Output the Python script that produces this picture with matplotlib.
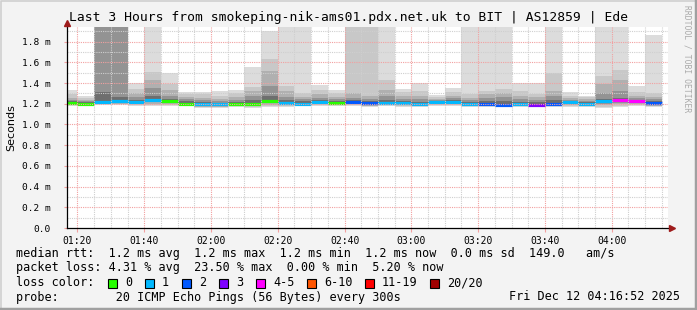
import matplotlib
matplotlib.use("Agg")
import matplotlib.pyplot as plt
from matplotlib.patches import Rectangle
from matplotlib.lines import Line2D
import numpy as np
import pandas as pd

# --- data (ms), one entry per 5-minute step; step end times ---
slot_end = pd.date_range("2025-12-12 01:20", periods=36, freq="5min")
window_start = pd.Timestamp("2025-12-12 01:16:52")
window_end = pd.Timestamp("2025-12-12 04:16:52")

p_min = [1.18, 1.18, 1.19, 1.19, 1.18, 1.18, 1.18, 1.18, 1.16, 1.16, 1.17, 1.16,
         1.17, 1.17, 1.18, 1.18, 1.18, 1.18, 1.17, 1.18, 1.17, 1.17, 1.18, 1.18,
         1.17, 1.17, 1.17, 1.17, 1.17, 1.17, 1.17, 1.17, 1.16, 1.17, 1.18, 1.17]
p_max = [1.33, 1.28, 2.5, 2.5, 1.40, 2.5, 1.50, 1.31, 1.31, 1.32, 1.33, 1.56,
         1.90, 2.5, 2.5, 1.38, 1.33, 2.5, 2.5, 2.5, 1.34, 1.40, 1.285, 1.35,
         2.5, 2.5, 2.5, 1.40, 1.40, 2.5, 1.31, 1.28, 2.5, 2.5, 1.37, 1.865]
p_up1 = [1.29, 1.26, 2.5, 2.5, 1.34, 1.51, 1.39, 1.29, 1.29, 1.28, 1.30, 1.36,
         1.63, 1.37, 1.30, 1.33, 1.30, 2.5, 2.5, 1.43, 1.31, 1.32, 1.27, 1.31,
         1.29, 1.32, 1.34, 1.32, 1.29, 1.50, 1.28, 1.27, 1.47, 1.53, 1.31, 1.30]
p_up2 = [1.26, 1.24, 2.5, 2.5, 1.30, 1.43, 1.33, 1.27, 1.26, 1.25, 1.27, 1.32,
         1.52, 1.32, 1.27, 1.29, 1.27, 1.30, 1.28, 1.33, 1.28, 1.28, 1.25, 1.28,
         1.26, 1.29, 1.30, 1.28, 1.27, 1.32, 1.26, 1.25, 1.39, 1.43, 1.28, 1.27]
p_up3 = [1.24, 1.23, 2.5, 2.5, 1.27, 1.35, 1.28, 1.25, 1.24, 1.23, 1.24, 1.28,
         1.37, 1.27, 1.25, 1.26, 1.25, 1.26, 1.25, 1.28, 1.25, 1.25, 1.24, 1.26,
         1.24, 1.26, 1.27, 1.25, 1.24, 1.28, 1.24, 1.23, 1.30, 1.32, 1.26, 1.25]
p_up4 = [1.23, 1.22, 1.31, 1.27, 1.24, 1.28, 1.25, 1.23, 1.22, 1.21, 1.22, 1.24,
         1.28, 1.24, 1.23, 1.24, 1.23, 1.24, 1.23, 1.24, 1.23, 1.22, 1.23, 1.24,
         1.22, 1.23, 1.23, 1.22, 1.22, 1.24, 1.23, 1.22, 1.25, 1.26, 1.24, 1.23]
median = [1.21, 1.20, 1.22, 1.225, 1.22, 1.24, 1.225, 1.20, 1.195, 1.195, 1.20, 1.20,
          1.23, 1.21, 1.20, 1.22, 1.21, 1.22, 1.205, 1.21, 1.21, 1.195, 1.22, 1.22,
          1.20, 1.20, 1.19, 1.20, 1.19, 1.20, 1.215, 1.20, 1.225, 1.235, 1.225, 1.205]
loss_idx = [0, 0, 1, 1, 1, 1, 0, 0, 1, 1, 0, 0, 0, 1, 1, 1, 0, 2, 2, 1, 1, 1, 1, 1,
            1, 2, 2, 1, 3, 2, 1, 1, 1, 4, 4, 2]

loss_labels = ["0", "1", "2", "3", "4-5", "6-10", "11-19", "20/20"]
loss_colors = ["#26ff00", "#00b8ff", "#0059ff", "#7e00ff", "#ff00ff",
               "#ff5500", "#ff0000", "#a10000"]

legend_lines = [
    "median rtt:  1.2 ms avg  1.2 ms max  1.2 ms min  1.2 ms now  0.0 ms sd  149.0   am/s",
    "packet loss: 4.31 % avg  23.50 % max  0.00 % min  5.20 % now",
]
probe_text = "probe:        20 ICMP Echo Pings (56 Bytes) every 300s"
date_text = "Fri Dec 12 04:16:52 2025"
title = "Last 3 Hours from smokeping-nik-ams01.pdx.net.uk to BIT | AS12859 | Ede"

MONO = "DejaVu Sans Mono"
W, H = 697, 310


def mins(ts):
    return (ts - ts.normalize()).total_seconds() / 60.0


fig = plt.figure(figsize=(W / 100, H / 100), dpi=100, facecolor="#f3f3f3")
ax = fig.add_axes([67 / W, 82 / H, 601 / W, 201 / H])
ax.set_facecolor("white")

t0, t1 = mins(window_start), mins(window_end)
ends = np.array([mins(t) for t in slot_end])
lefts = np.maximum(ends - 5, t0)
widths = ends - lefts

p_min = np.array(p_min)
med = np.array(median)
tops = [np.array(p_max), np.array(p_up1), np.array(p_up2), np.array(p_up3), np.array(p_up4)]
shades = ["#dcdcdc", "#c8c8c8", "#b0b0b0", "#939393", "#6e6e6e"]
for k, (top, shade) in enumerate(zip(tops, shades)):
    bot = p_min + k * (med - 0.005 - p_min) / len(tops)
    ax.bar(lefts, top - bot, widths, bottom=bot, align="edge", color=shade,
           linewidth=0, zorder=1)

ax.hlines(med, lefts, ends, colors=[loss_colors[i] for i in loss_idx],
          linewidth=2.3, zorder=3)

ax.set_xlim(t0, t1)
ax.set_ylim(0, 1.942)

# grid (rrdtool draws it over the data)
for x in np.arange(80, t1, 5):
    major = x % 20 == 0
    ax.axvline(x, color="#f2a0a0" if major else "#cfcfcf", lw=0.8,
               ls=(0, (1, 1)), zorder=4)
for y in np.arange(0.1, 1.94, 0.1):
    major = round(y * 10) % 2 == 0
    ax.axhline(y, color="#f2a0a0" if major else "#cfcfcf", lw=0.8,
               ls=(0, (1, 1)), zorder=4)

xt = np.arange(80, 241, 20)
ax.set_xticks(xt)
ax.set_xticklabels([f"{int(v) // 60:02d}:{int(v) % 60:02d}" for v in xt],
                   fontfamily=MONO, fontsize=7)
yt = np.arange(0, 1.81, 0.2)
ax.set_yticks(yt)
ax.set_yticklabels(["0.0"] + [f"{v:.1f} m" for v in yt[1:]],
                   fontfamily=MONO, fontsize=6.8)
ax.tick_params(axis="x", length=3, pad=2.5, color="#f2a0a0", direction="out")
ax.tick_params(axis="y", length=2, pad=10, color="#f2a0a0")

for s in ("top", "right"):
    ax.spines[s].set_visible(False)
for s in ("left", "bottom"):
    ax.spines[s].set_linewidth(0.9)
    ax.spines[s].set_color("black")
    ax.spines[s].set_zorder(5)
ax.plot([0], [1.02], marker="^", color="#9e1b1b", ms=4.5, transform=ax.transAxes,
        clip_on=False, zorder=6)
ax.plot([1.006], [0], marker=">", color="#9e1b1b", ms=4.5, transform=ax.transAxes,
        clip_on=False, zorder=6)

fig.text(11 / W, 1 - 128 / H, "Seconds", rotation=90, ha="center", va="center",
         fontsize=8)

fig.text(0.5, 1 - 18 / H, title, ha="center", va="center", fontfamily=MONO, fontsize=9.4)
fig.text(687 / W, 1 - 5 / H, "RRDTOOL / TOBI OETIKER", ha="center", va="top",
         rotation=-90, fontfamily=MONO, fontsize=5.8, color="#aaaaaa")

# legend block
for i, line in enumerate(legend_lines):
    fig.text(16 / W, 1 - (254 + 14 * i) / H, line, ha="left", va="center",
             fontfamily=MONO, fontsize=8.5)
fig.text(16 / W, 1 - 283 / H, "loss color:", ha="left", va="center",
         fontfamily=MONO, fontsize=8.5)
bx = 108
for lab, col in zip(loss_labels, loss_colors):
    fig.add_artist(Rectangle((bx / W, 1 - 287.5 / H), 8.5 / W, 9 / H, facecolor=col,
                             edgecolor="black", linewidth=0.8, transform=fig.transFigure))
    fig.text((bx + 17) / W, 1 - 283 / H, lab, ha="left", va="center",
             fontfamily=MONO, fontsize=8.5)
    bx += 30 + 7.0 * len(lab)
fig.text(16 / W, 1 - 297 / H, probe_text, ha="left", va="center",
         fontfamily=MONO, fontsize=8.5)
fig.text(680 / W, 1 - 297 / H, date_text, ha="right", va="center",
         fontfamily=MONO, fontsize=8.5)

# 3d-ish frame
px = lambda x: x / W
py = lambda y: 1 - y / H
fig.add_artist(Line2D([px(0.5), px(0.5), px(W)], [py(H), py(0.5), py(0.5)],
                      color="#cfcfcf", lw=1.2, transform=fig.transFigure))
fig.add_artist(Line2D([px(0), px(W - 1.5), px(W - 1.5)], [py(H - 1.5), py(H - 1.5), py(0)],
                      color="#a0a0a0", lw=2.5, transform=fig.transFigure))

fig.savefig("out.png", dpi=100, facecolor=fig.get_facecolor())
